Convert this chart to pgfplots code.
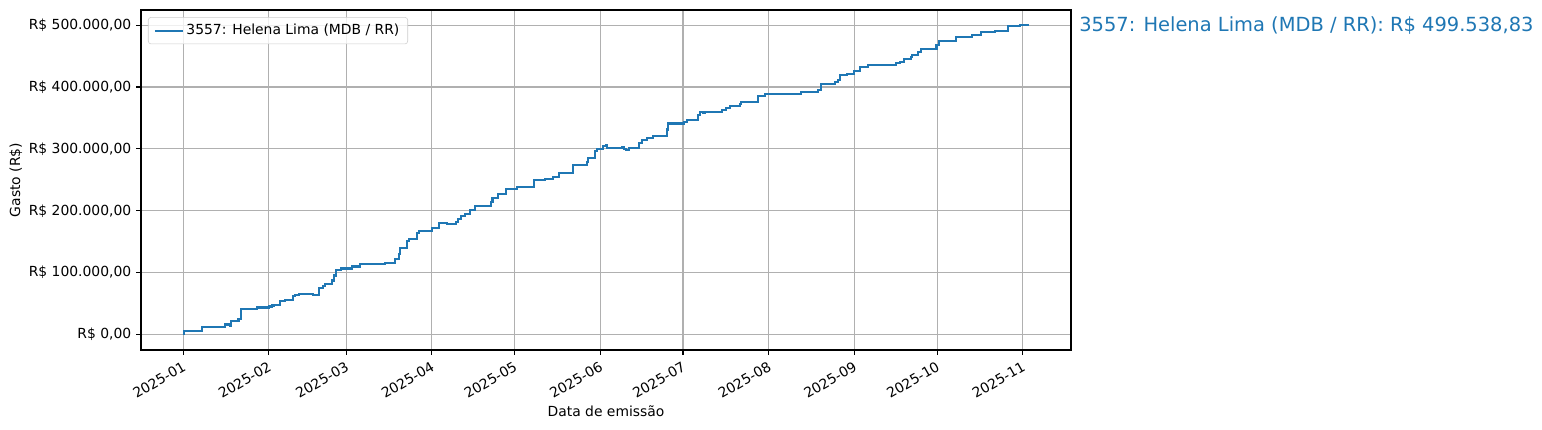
\documentclass[border=0pt]{standalone}
\usepackage{pgfplots}
\pgfplotsset{compat=1.18}
\usepackage{fontspec}
\setmainfont{DejaVu Sans}
\definecolor{mplblue}{HTML}{1F77B4}
\definecolor{mplgrid}{HTML}{B0B0B0}
\begin{document}
\begin{tikzpicture}
\begin{axis}[
    width=669.6pt, height=244.8pt, scale only axis,
    xmin=-15.3, xmax=321.5,
    ymin=-24950, ymax=524490,
    scaled y ticks=false, scaled x ticks=false,
    clip=false,
    axis line style={black, line width=0.8pt},
    tick align=outside, tick pos=left,
    major tick length=3.5pt,
    tick style={black, line width=0.8pt},
    grid=major,
    major grid style={mplgrid, line width=0.8pt},
    xtick={0,31,59,90,120,151,181,212,243,273,304},
    xticklabels={2025-01,2025-02,2025-03,2025-04,2025-05,2025-06,2025-07,2025-08,2025-09,2025-10,2025-11},
    xticklabel style={rotate=30, anchor=north east, inner sep=1pt, xshift=-2pt, yshift=-2pt,
        font=\fontsize{10}{12}\selectfont},
    ytick={0,100000,200000,300000,400000,500000},
    yticklabels={{R\$ 0,00},{R\$ 100.000,00},{R\$ 200.000,00},{R\$ 300.000,00},{R\$ 400.000,00},{R\$ 500.000,00}},
    yticklabel style={font=\fontsize{10}{12}\selectfont},
    xlabel={Data de emissão},
    ylabel={Gasto (R\$)},
    label style={font=\fontsize{10}{12}\selectfont},
    ylabel style={xshift=0pt, yshift=-2pt},
    legend style={at={(0.0075,0.979)}, anchor=north west, draw=black!20,
        rounded corners=2pt, fill=white, fill opacity=0.8, text opacity=1,
        font=\fontsize{10}{12}\selectfont, inner xsep=4pt, inner ysep=3pt},
    legend cell align=left,
    legend image code/.code={\draw[#1] (0pt,0pt) -- (20pt,0pt);},
]
\addplot[const plot, mplblue, line width=1.5pt] coordinates {
    (0,600) (0.3,5300) (6.9,11800) (15,16200) (16.8,14600) (17.2,21500)
    (20,24800) (20.8,41000) (26.7,43700) (31,45300) (32,46900) (33,48500)
    (35,53900) (36.7,55500) (39.7,62000) (40.5,63600) (42,65200) (46.9,63600)
    (49,75600) (50.5,78200) (51.4,81400) (53.8,87400) (54.7,95500) (55.2,103600)
    (57,106800) (61,110000) (64,113300) (73,115400) (76.7,121400) (78,130600)
    (78.5,139200) (80.9,150500) (81.8,154900) (84.5,164600) (85.5,167200)
    (90,172000) (92.5,180200) (95.4,178600) (98.7,182300) (99.5,186000)
    (100.5,192000) (102,195200) (104,200600) (105.6,207600) (111.3,214000)
    (112,220600) (114,226500) (117,235100) (121,237900) (127,249800)
    (131,251400) (134,254700) (136.2,260500) (141,273500) (146.2,278800)
    (146.7,285300) (149,296600) (149.8,300000) (152,304200) (153.2,306500)
    (153.6,301500) (158.8,303500) (159.5,300500) (160.3,298800) (161.5,302200)
    (165,309800) (166.2,314100) (168,317300) (170,321100) (175.1,331400)
    (175.5,341100) (181.4,343600) (182.5,346300) (186.5,355500) (187,359800)
    (188.3,357500) (188.8,359800) (195.2,363100) (196.4,365800) (198,369000)
    (201.5,372700) (202,376000) (208,385100) (210.8,388800) (223.8,392100)
    (230,394800) (230.9,404500) (236.1,408300) (237,412100) (237.9,419100)
    (240.3,421200) (242.9,425600) (245,432600) (248,435800) (258.1,438100)
    (259.6,440700) (261,445000) (263.4,448300) (264,451500) (266.2,455900)
    (267.1,461200) (272.8,468200) (273.8,474100) (280,481100) (285.8,484300)
    (289,488700) (293.9,490800) (298.7,498400) (302.9,499538.83) (306.2,499538.83)
};
\addlegendentry{3557: Helena Lima (MDB / RR)}
\node[anchor=west, inner sep=0pt, text=mplblue, font=\fontsize{14}{16.8}\selectfont]
    at (axis cs:324.4,499538.83) {3557: Helena Lima (MDB / RR): R\$ 499.538,83};
\end{axis}
\path ([xshift=-101.52pt,yshift=-57.6pt]current axis.south west)
    rectangle ([xshift=1008.72pt,yshift=252pt]current axis.south west);
\end{tikzpicture}
\end{document}
